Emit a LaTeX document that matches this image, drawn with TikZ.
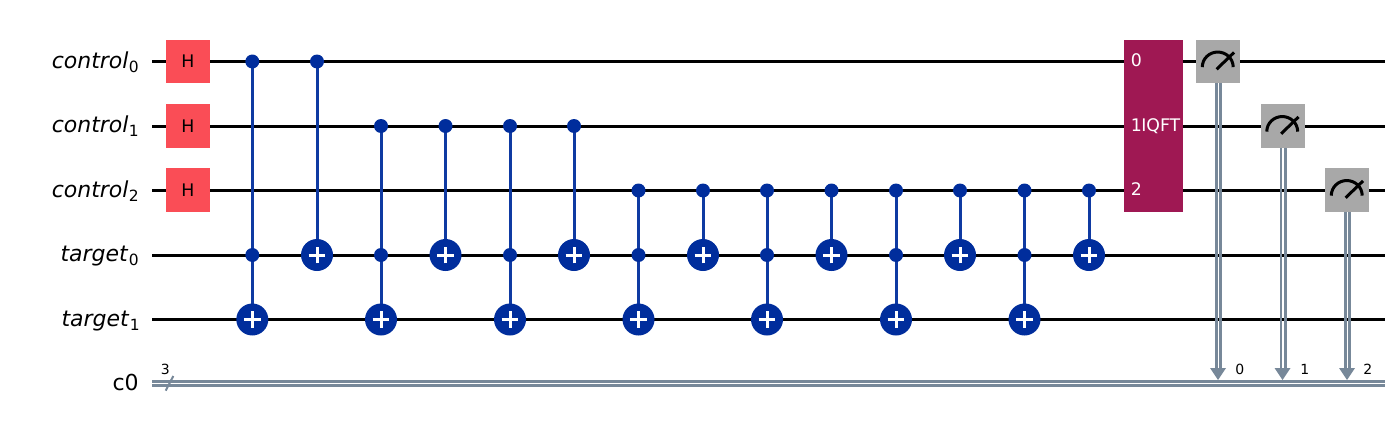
\documentclass[tikz,border=0pt]{standalone}
\usepackage{fontspec}
\setmainfont{DejaVu Sans}
\usetikzlibrary{backgrounds}
\definecolor{hred}{HTML}{FA4D56}
\definecolor{cxblue}{HTML}{002D9C}
\definecolor{qftpink}{HTML}{9F1853}
\definecolor{measgray}{HTML}{A8A8A8}
\definecolor{clgray}{HTML}{778899}
\newcommand{\wirename}[2]{\textit{#1}\kern0.3pt\raisebox{-3pt}{\fontsize{11.6pt}{12pt}\selectfont #2}}
\tikzset{
  wire/.style={draw=black,line width=2.25pt},
  cxline/.style={draw=cxblue!94!white,line width=2.25pt},
  classical/.style={draw=clgray,line width=2pt},
  wirelabel/.style={anchor=base east,inner sep=0pt,font=\fontsize{16.5pt}{18pt}\selectfont},
  gatetext/.style={font=\fontsize{13pt}{15pt}\selectfont},
  hgate/.style={fill=hred,minimum width=33pt,minimum height=32.5pt,inner sep=0pt,text=black,gatetext},
  measgate/.style={fill=measgray,minimum width=33pt,minimum height=32.5pt,inner sep=0pt},
  qftgate/.style={fill=qftpink,minimum width=44.25pt,minimum height=129pt,inner sep=0pt},
  qfttext/.style={anchor=base west,inner sep=0pt,text=white,gatetext},
  ctrl/.style={circle,fill=cxblue,minimum size=10.5pt,inner sep=0pt},
  targ/.style={circle,fill=cxblue,minimum size=24pt,inner sep=0pt,
    path picture={\draw[white,line width=2.25pt]
      (path picture bounding box.center) ++(-6.2pt,0) -- ++(12.4pt,0)
      (path picture bounding box.center) ++(0,-6.2pt) -- ++(0,12.4pt);}},
  smalltext/.style={anchor=base west,inner sep=0pt,font=\fontsize{10.5pt}{12pt}\selectfont},
  dial/.style={draw=black,line width=2.25pt},
}
\begin{document}
\begin{tikzpicture}[x=0.75pt,y=-0.75pt]
\useasboundingbox (0,0) rectangle (1399,432);
% wire ends
\foreach \n/\y in {w0/61.5,w1/126,w2/190.5,w3/255,w4/319.5}{
  \coordinate (\n l) at (152,\y);
  \coordinate (\n r) at (1385,\y);
}
\coordinate (cl) at (152,383.4);
\coordinate (cr) at (1385,383.4);
\begin{scope}[on background layer]
  \foreach \n in {w0,w1,w2,w3,w4}{ \draw[wire] (\n l) -- (\n r); }
  \draw[classical] ([yshift=1.6pt]cl) -- ([yshift=1.6pt]cr);
  \draw[classical] ([yshift=-1.6pt]cl) -- ([yshift=-1.6pt]cr);
\end{scope}
% labels
\node[wirelabel] (l0) at (139,68) {\wirename{control}{0}};
\node[wirelabel] (l1) at (139,132.6) {\wirename{control}{1}};
\node[wirelabel] (l2) at (139,197) {\wirename{control}{2}};
\node[wirelabel] (l3) at (139,261.5) {\wirename{target}{0}};
\node[wirelabel] (l4) at (140,326) {\wirename{target}{1}};
\node[wirelabel] (l5) at (139,390) {c0};
% register slash
\coordinate (sa) at (165.7,390.7);
\coordinate (sb) at (173.3,376);
\draw[draw=clgray,line width=1.5pt] (sa) -- (sb);
\node[smalltext] (n3) at (160.5,374) {3};
% H gates
\node[hgate] (h0) at (188,61.5) {H};
\node[hgate] (h1) at (188,126) {H};
\node[hgate] (h2) at (188,190) {H};
% CCX gates
\foreach \i/\x/\y in {a/252.3/61.5,b/381/126,c/510/126,d/638.5/190.5,e/767/190.5,f/896/190.5,g/1024.5/190.5}{
  \node[ctrl] (ct\i) at (\x,\y) {};
  \node[ctrl] (cm\i) at (\x,255) {};
  \node[targ] (tt\i) at (\x,319.5) {};
  \begin{scope}[on background layer]
    \draw[cxline] (ct\i.center) -- (tt\i.center);
  \end{scope}
}
% CX gates
\foreach \i/\x/\y in {a/317/61.5,b/445.5/126,c/574/126,d/703/190.5,e/831.5/190.5,f/960/190.5,g/1089/190.5}{
  \node[ctrl] (xc\i) at (\x,\y) {};
  \node[targ] (xt\i) at (\x,255) {};
  \begin{scope}[on background layer]
    \draw[cxline] (xc\i.center) -- (xt\i.center);
  \end{scope}
}
% IQFT
\node[qftgate] (qft) at (1153.5,126) {};
\node[qfttext] (q0) at (1130.5,66.5) {0};
\node[qfttext] (q1) at (1130.5,131) {1};
\node[qfttext] (q2) at (1130.5,195.5) {2};
\node[qfttext] (qn) at (1141,131) {IQFT};
% measurements
\foreach \i/\x/\y/\lx in {0/1218/61.5/1235,1/1282.5/126/1300,2/1347/190/1363}{
  \node[measgate] (m\i) at (\x,\y) {};
  \coordinate (tip\i) at (\x,380);
  \coordinate (arr\i) at (\x,368);
  \begin{scope}[on background layer]
    \draw[classical] ([xshift=-1.2pt]m\i.south) -- ([xshift=-1.2pt]arr\i);
    \draw[classical] ([xshift=2pt]m\i.south) -- ([xshift=2pt]arr\i);
  \end{scope}
  \fill[clgray] (tip\i) -- ([xshift=-6pt]arr\i) -- ([xshift=6pt]arr\i) -- cycle;
  \draw[dial] ([shift={(-11.8pt,-4.2pt)}]m\i.center) arc[start angle=180,end angle=0,x radius=11.6pt,y radius=11.3pt];
  \draw[dial] ([shift={(-1pt,-5.8pt)}]m\i.center) -- ([shift={(12pt,6.8pt)}]m\i.center);
  \node[smalltext] (lab\i) at (\lx,374) {\i};
}
\end{tikzpicture}
\end{document}
